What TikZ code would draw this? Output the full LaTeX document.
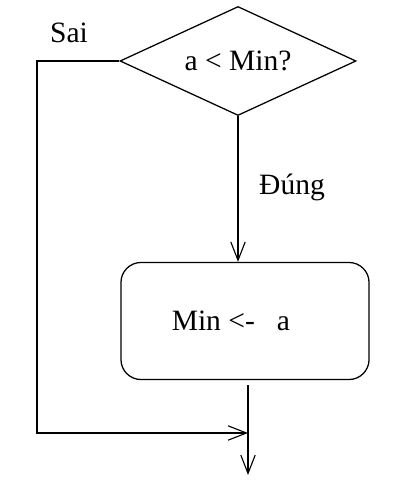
\documentclass[tikz,border=0pt]{standalone}
\usepackage{fontspec}
\setmainfont{Liberation Serif}
\usetikzlibrary{
  arrows.meta,
  positioning,
  calc,
  shapes.geometric
}

\begin{document}
\begin{tikzpicture}[x=0.025cm, y=-0.025cm,
    line width=0.9pt,
    every node/.style={font=\fontsize{21}{25}\selectfont},
    flow/.style={-{Straight Barb[length=4.6mm, width=3.6mm, line width=0.8pt]}},
    decision/.style={draw, diamond, aspect=2.2, inner sep=0pt, minimum width=5.9cm, minimum height=2.725cm},
    process/.style={draw, rectangle, rounded corners=0.5cm, minimum width=6.2cm, minimum height=2.925cm}
  ]
    \useasboundingbox (0,0) rectangle (394,491);

    % Khoi dieu kien
    \node[decision] (cond) at (238,61) {a < Min?};
    \node (sai) at (69,33) {Sai};

    % Khoi gan
    \node[process] (assign) at (245,321) {\hspace*{-20pt}Min <-\ \ \ a};
    \node (dung) at (292,187) {Đúng};

    % Diem noi
    \coordinate (lft) at (37,433);
    \coordinate (join) at (248,433);
    \coordinate (out) at (248,475);

    % Cac duong noi
    \draw[flow] (cond.south) -- (cond.south |- assign.north);
    \draw[flow] (cond.west) -| (lft) -- (join);
    \draw[flow] ($(join |- assign.south)+(0,5)$) -- (out);
  \end{tikzpicture}
\end{document}
